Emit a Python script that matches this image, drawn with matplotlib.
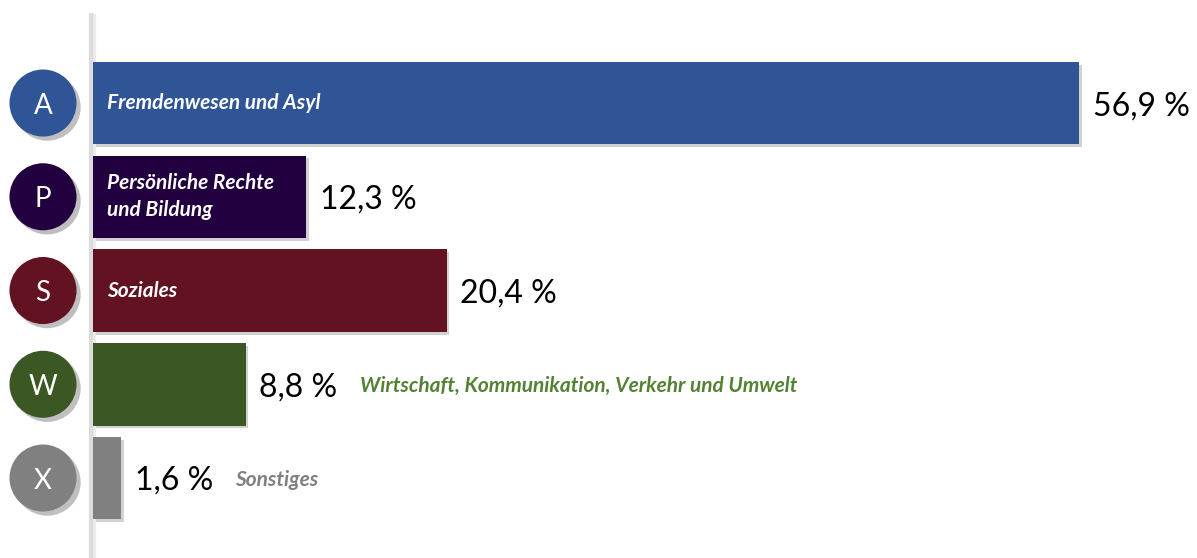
import matplotlib
matplotlib.use("Agg")
import matplotlib.pyplot as plt
import matplotlib.patheffects as pe

# ---- data ----
letters = ["A", "P", "S", "W", "X"]
categories = ["Fremdenwesen und Asyl", "Persönliche Rechte\nund Bildung", "Soziales",
              "Wirtschaft, Kommunikation, Verkehr und Umwelt", "Sonstiges"]
values = [56.9, 12.3, 20.4, 8.8, 1.6]
value_labels = ["56,9 %", "12,3 %", "20,4 %", "8,8 %", "1,6 %"]
inside = [True, True, True, False, False]

colors = ["#2F5597", "#22003F", "#631221", "#3A5724", "#808080"]
outside_text_colors = [None, None, None, "#548235", "#808080"]

FONT = "Lato"
W, H = 1197, 558
fig = plt.figure(figsize=(W / 100, H / 100), dpi=100)
fig.patch.set_facecolor("white")

ax_left = 93 / W
ax = fig.add_axes([ax_left, 0, 1 - ax_left, 1])
ax.set_xlim(0, 63.7)
ax.set_ylim(4.853, -1.099)
ax.axis("off")

shadow = [pe.SimplePatchShadow(offset=(2, -2), shadow_rgbFace="#000000", alpha=0.18), pe.Normal()]

ypos = list(range(len(values)))
bars = ax.barh(ypos, values, height=0.88, color=colors, zorder=3)
for b in bars:
    b.set_path_effects(shadow)

# vertical axis line
ax.plot([-0.1, -0.1], [-0.94, 4.853], transform=ax.transData, color="#DCDCDC", lw=3,
        clip_on=False, zorder=2,
        path_effects=[pe.SimpleLineShadow(offset=(2, -1), shadow_color="#000000", alpha=0.08), pe.Normal()])

ytr = ax.get_yaxis_transform()  # x in axes fraction, y in data
cx = -50 / (W * (1 - ax_left))
for i, (let, col) in enumerate(zip(letters, colors)):
    ax.scatter([cx], [i], s=2330, color=col, transform=ytr, clip_on=False, zorder=4,
               path_effects=[pe.SimplePatchShadow(offset=(3, -3), shadow_rgbFace="#000000", alpha=0.25), pe.Normal()],
               linewidths=0)
    ax.text(cx, i, let, transform=ytr, ha="center", va="center_baseline", color="white",
            fontsize=20, family=FONT, zorder=5)

fig.canvas.draw()
for i, (v, lab, cat) in enumerate(zip(values, value_labels, categories)):
    t = ax.text(v + 0.8, i, lab, ha="left", va="center_baseline", fontsize=23, family=FONT,
                color="black", zorder=5)
    if inside[i]:
        ax.text(0.8, i, cat, ha="left", va="center", fontsize=15, family=FONT,
                fontweight="bold", style="italic", color="white", zorder=5, linespacing=1.45)
    else:
        fig.canvas.draw()
        bb = t.get_window_extent()
        inv = ax.transData.inverted()
        x_end = inv.transform((bb.x1, 0))[0]
        ax.text(x_end + 1.3, i, cat, ha="left", va="center_baseline", fontsize=15, family=FONT,
                fontweight="bold", style="italic", color=outside_text_colors[i], zorder=5)

fig.savefig("out.png", dpi=100, facecolor="white")
